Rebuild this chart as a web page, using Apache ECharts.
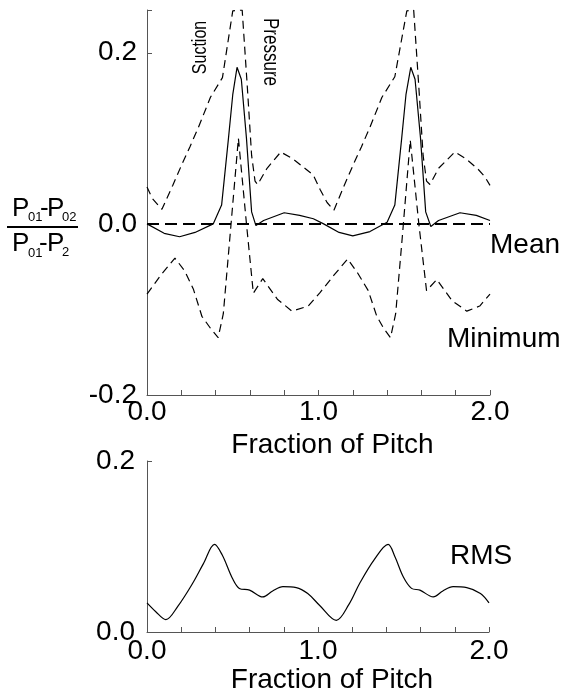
<!DOCTYPE html>
<html lang="en">
<head>
    <meta charset="UTF-8">
    <title>Pitch traverse</title>
    <script type="text/javascript" src="https://cdn.jsdelivr.net/npm/echarts@6/dist/echarts.min.js"></script>
    <style>
        html, body { margin: 0; padding: 0; background: #fff; }
    </style>
</head>
<body>
<div id="main" style="width: 563px;height:698px;"></div>
<script type="text/javascript">
// tick labels
var xLabels = [0, 1, 2];
var yTopLabels = [-0.2, 0, 0.2];
var yBotLabels = [0, 0.2];

// maximum (upper dashed)
var maxX = [0, 0.03, 0.087, 0.15, 0.2, 0.25, 0.3, 0.37, 0.44, 0.5, 0.555, 0.585, 0.61, 0.63, 0.645, 0.7, 0.78, 0.85, 0.92, 0.97, 1.01, 1.05, 1.09,
            1.15, 1.2, 1.25, 1.3, 1.37, 1.445, 1.515, 1.555, 1.585, 1.61, 1.63, 1.65, 1.7, 1.795, 1.86, 1.93, 1.97, 2.0];
var maxY = [0.043, 0.03, 0.017, 0.045, 0.068, 0.09, 0.113, 0.148, 0.171, 0.249, 0.25, 0.16, 0.08, 0.05, 0.046, 0.065, 0.084, 0.076, 0.065, 0.057, 0.04, 0.025, 0.016,
            0.045, 0.068, 0.09, 0.113, 0.148, 0.172, 0.249, 0.25, 0.16, 0.08, 0.05, 0.046, 0.065, 0.084, 0.076, 0.064, 0.055, 0.045];

// mean (solid)
var meanX = [0, 0.1, 0.19, 0.28, 0.386, 0.435, 0.475, 0.5, 0.525, 0.55, 0.58, 0.61, 0.635, 0.68, 0.8, 0.89, 0.97,
             1.03, 1.12, 1.2, 1.3, 1.4, 1.445, 1.485, 1.51, 1.538, 1.563, 1.595, 1.625, 1.655, 1.7, 1.825, 1.92, 2.0];
var meanY = [0, -0.011, -0.015, -0.01, 0, 0.022, 0.1, 0.151, 0.183, 0.169, 0.1, 0.014, -0.002, 0.004, 0.013, 0.01, 0.006,
             0, -0.01, -0.014, -0.009, 0.002, 0.022, 0.1, 0.151, 0.183, 0.169, 0.1, 0.014, -0.003, 0.004, 0.013, 0.01, 0.004];

// minimum (lower dashed)
var minX = [0, 0.08, 0.163, 0.22, 0.27, 0.32, 0.37, 0.415, 0.445, 0.485, 0.533, 0.58, 0.62, 0.675, 0.76, 0.845, 0.94, 1.01,
            1.09, 1.17, 1.23, 1.29, 1.34, 1.38, 1.42, 1.45, 1.49, 1.535, 1.585, 1.63, 1.69, 1.78, 1.865, 1.94, 2.0];
var minY = [-0.082, -0.06, -0.04, -0.055, -0.076, -0.108, -0.122, -0.133, -0.105, -0.012, 0.1, 0, -0.081, -0.064, -0.088, -0.102, -0.096, -0.08,
            -0.06, -0.041, -0.058, -0.078, -0.108, -0.122, -0.133, -0.105, -0.012, 0.098, 0, -0.078, -0.065, -0.09, -0.102, -0.096, -0.082];

// zero reference
var zeroX = [0, 2];
var zeroY = [0, 0];

// RMS (bottom panel)
var rmsX = [0, 0.05, 0.11, 0.18, 0.267, 0.33, 0.395, 0.44, 0.5, 0.54, 0.6, 0.677, 0.735, 0.795, 0.873, 0.94, 1.01,
            1.107, 1.18, 1.244, 1.33, 1.41, 1.45, 1.5, 1.547, 1.596, 1.674, 1.73, 1.79, 1.87, 1.95, 2.0];
var rmsY = [0.034, 0.024, 0.0145, 0.03, 0.057, 0.08, 0.1025, 0.09, 0.0625, 0.051, 0.049, 0.041, 0.048, 0.053, 0.052, 0.045, 0.031,
            0.0137, 0.032, 0.057, 0.085, 0.1025, 0.088, 0.064, 0.051, 0.049, 0.041, 0.048, 0.053, 0.052, 0.045, 0.034];

function pairs(xs, ys) {
    return xs.map(function (x, i) { return [x, ys[i]]; });
}

// only print a label if the value is in the list
function labelIn(list) {
    return function (v) {
        for (var i = 0; i < list.length; i++) {
            if (Math.abs(v - list[i]) < 1e-6) return v.toFixed(1);
        }
        return '';
    };
}

var FONT = 'Liberation Sans, Arial, sans-serif';
var AXIS = '#555';

function xAxisDef(idx, margin, gap) {
    return {
        type: 'value', gridIndex: idx, min: 0, max: 2, interval: 0.2,
        name: 'Fraction of Pitch', nameLocation: 'middle', nameGap: gap,
        nameTextStyle: { fontFamily: FONT, fontSize: 28, color: '#000', padding: [0, 0, 0, 28] },
        axisLine: { onZero: false, lineStyle: { color: AXIS, width: 1 } },
        axisTick: { show: true, inside: true, length: 5, lineStyle: { color: AXIS, width: 1 } },
        axisLabel: { margin: margin, fontFamily: FONT, fontSize: 28, color: '#000', formatter: labelIn(xLabels) },
        splitLine: { show: false }
    };
}

function yAxisDef(idx, min, max, labels, margin) {
    return {
        type: 'value', gridIndex: idx, min: min, max: max, interval: 0.2,
        axisLine: { show: true, onZero: false, lineStyle: { color: AXIS, width: 1 } },
        axisTick: { show: true, inside: true, length: 5, lineStyle: { color: AXIS } },
        axisLabel: { margin: margin, fontFamily: FONT, fontSize: 28, color: '#000', formatter: labelIn(labels) },
        splitLine: { show: false }
    };
}

function lineSeries(name, xs, ys, gi, type, width, smooth) {
    return {
        name: name, type: 'line', xAxisIndex: gi, yAxisIndex: gi,
        data: pairs(xs, ys), symbol: 'none', smooth: smooth || false, silent: true,
        lineStyle: { color: '#000', width: width, type: type }
    };
}

function txt(x, y, s, size) {
    return {
        type: 'text', x: x, y: y,
        style: { text: s, fontFamily: FONT, fontSize: size, fill: '#000', textAlign: 'left', textVerticalAlign: 'middle' }
    };
}

var myChart = echarts.init(document.getElementById('main'));
var option = {
    backgroundColor: '#fff',
    animation: false,
    grid: [
        { left: 147, top: 10, width: 343, height: 385 },
        { left: 147, top: 461, width: 342, height: 171 }
    ],
    xAxis: [xAxisDef(0, 3, 26), xAxisDef(1, 5, 32)],
    yAxis: [
        yAxisDef(0, -0.2, 0.25, yTopLabels, 10),
        yAxisDef(1, 0, 0.2, yBotLabels, 12)
    ],
    series: [
        lineSeries('Zero', zeroX, zeroY, 0, [12, 6], 2),
        lineSeries('Maximum', maxX, maxY, 0, [8, 5], 1.2),
        lineSeries('Mean', meanX, meanY, 0, 'solid', 1.2),
        lineSeries('Minimum', minX, minY, 0, [8, 5], 1.2),
        lineSeries('RMS', rmsX, rmsY, 1, 'solid', 1.2, 0.35)
    ],
    graphic: [
        // y-axis name as a fraction
        txt(12, 209, 'P', 26), txt(28, 217.5, '01', 13), txt(40, 209, '-', 26),
        txt(47, 209, 'P', 26), txt(62, 217.5, '02', 13),
        { type: 'line', shape: { x1: 7, y1: 227, x2: 78, y2: 227 }, style: { stroke: '#000', lineWidth: 2 } },
        txt(12, 244, 'P', 26), txt(28, 253.5, '01', 13), txt(39, 244, '-', 26),
        txt(47, 244, 'P', 26), txt(62, 252, '2', 13),
        // annotations
        txt(490, 245.5, 'Mean', 28),
        txt(447, 339, 'Minimum', 28),
        txt(450, 556, 'RMS', 28),
        { type: 'text', x: 200, y: 47.5, rotation: Math.PI / 2, scaleY: 1.3,
          style: { text: 'Suction', fontFamily: FONT, fontSize: 16, fill: '#000', textAlign: 'center', textVerticalAlign: 'middle' } },
        { type: 'text', x: 270, y: 52, rotation: -Math.PI / 2, scaleY: 1.3,
          style: { text: 'Pressure', fontFamily: FONT, fontSize: 17, fill: '#000', textAlign: 'center', textVerticalAlign: 'middle' } }
    ]
};
myChart.setOption(option);
</script>
</body>
</html>
